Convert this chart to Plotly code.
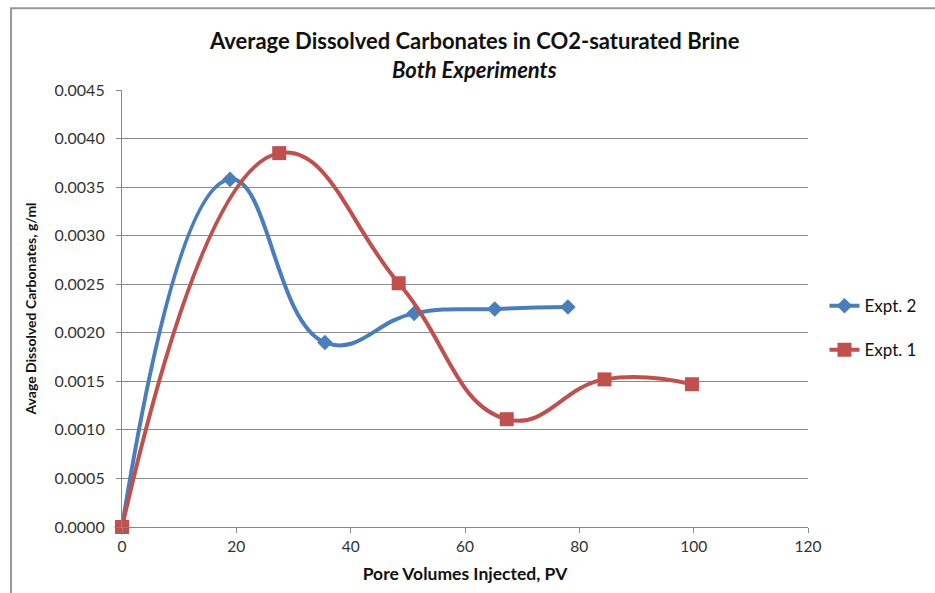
import plotly.graph_objects as go

expt2_x = [0, 18.9, 35.5, 51.1, 65.2, 78.0]
expt2_y = [0.0, 0.00358, 0.00190, 0.00220, 0.002245, 0.002265]
expt1_x = [0, 27.5, 48.4, 67.3, 84.4, 99.7]
expt1_y = [0.0, 0.00385, 0.00251, 0.00111, 0.00152, 0.00147]

x_ticks = [0, 20, 40, 60, 80, 100, 120]
y_ticks = [0.0, 0.0005, 0.0010, 0.0015, 0.0020, 0.0025, 0.0030, 0.0035, 0.0040, 0.0045]

FONT = "Lato, 'Open Sans', sans-serif"
fig = go.Figure()
fig.add_trace(go.Scatter(
    x=expt2_x, y=expt2_y, name="Expt. 2", mode="lines+markers", cliponaxis=False,
    line=dict(color="#4a7ebb", width=4, shape="spline", smoothing=1.3),
    marker=dict(symbol="diamond", size=12, color="#4a7ebb"),
    legendgroup="a"))
fig.add_trace(go.Scatter(
    x=expt1_x, y=expt1_y, name="Expt. 1", mode="lines+markers", cliponaxis=False,
    line=dict(color="#c0504d", width=4, shape="spline", smoothing=1.3),
    marker=dict(symbol="square", size=14, color="#c0504d"),
    legendgroup="b"))

fig.update_layout(
    width=935, height=593,
    margin=dict(l=122, r=127, t=90, b=64),
    paper_bgcolor="white", plot_bgcolor="white",
    font=dict(family=FONT, color="#222", size=15),
    showlegend=True,
    legend=dict(x=1.024, y=0.455, xanchor="left", yanchor="middle",
                font=dict(family=FONT, size=17, color="#111"),
                tracegroupgap=19, bgcolor="rgba(0,0,0,0)"),
    xaxis=dict(range=[0, 120], tickvals=x_ticks, ticktext=[str(v) for v in x_ticks],
               showgrid=False, zeroline=False, showline=True, linecolor="#888", linewidth=1.2,
               ticks="outside", ticklen=5, tickcolor="#888",
               tickfont=dict(family=FONT, size=15.5, color="#333"),
               title=dict(text="<b>Pore Volumes Injected, PV</b>", standoff=14,
                          font=dict(family=FONT, size=17.5, color="#111"))),
    yaxis=dict(range=[0, 0.0045], tickvals=y_ticks, ticktext=[f"{v:.4f}" for v in y_ticks],
               showgrid=True, gridcolor="#8c8c8c", gridwidth=1.2, zeroline=False,
               showline=True, linecolor="#888", linewidth=1.2,
               ticks="outside", ticklen=5, tickcolor="#888", ticklabelstandoff=8,
               tickfont=dict(family=FONT, size=16, color="#333"),
               title=dict(text="<b>Avage Dissolved Carbonates, g/ml</b>", standoff=14,
                          font=dict(family=FONT, size=14, color="#111"))),
)

fig.add_annotation(text="<b>Average Dissolved Carbonates in CO2-saturated Brine</b>",
                   xref="paper", yref="paper", x=0.5138, y=1.1139, xanchor="center", yanchor="middle",
                   showarrow=False, font=dict(family=FONT, size=22, color="#111"))
fig.add_annotation(text="<b><i>Both Experiments</i></b>",
                   xref="paper", yref="paper", x=0.5138, y=1.0478, xanchor="center", yanchor="middle",
                   showarrow=False, font=dict(family=FONT, size=22, color="#111"))

# Excel chart-area border (top and left edges)
fig.add_shape(type="rect", xref="paper", yref="paper", x0=-0.1618, x1=1.6, y0=-0.6, y1=1.187,
              line=dict(color="#999", width=2), fillcolor="rgba(0,0,0,0)", layer="above")

fig.write_html("out.html")
